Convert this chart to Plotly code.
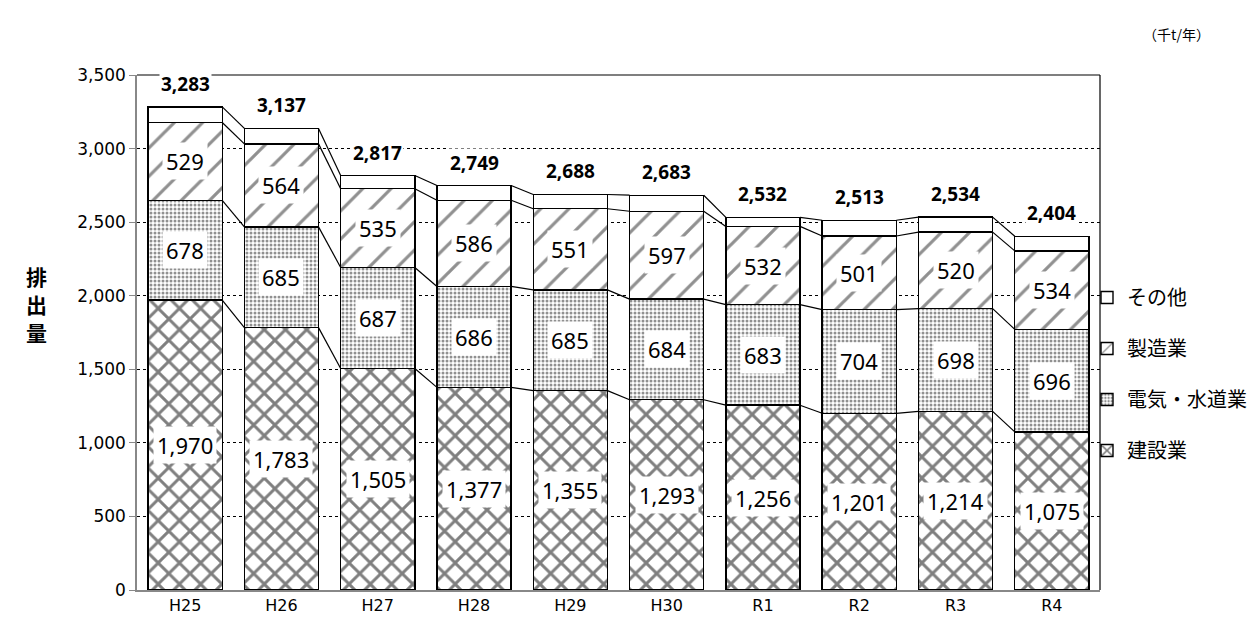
import plotly.graph_objects as go

years = ["H25", "H26", "H27", "H28", "H29", "H30", "R1", "R2", "R3", "R4"]
construction = [1970, 1783, 1505, 1377, 1355, 1293, 1256, 1201, 1214, 1075]
utilities = [678, 685, 687, 686, 685, 684, 683, 704, 698, 696]
manufacturing = [529, 564, 535, 586, 551, 597, 532, 501, 520, 534]
totals = [3283, 3137, 2817, 2749, 2688, 2683, 2532, 2513, 2534, 2404]
other = [t - a - b - c for t, a, b, c in zip(totals, construction, utilities, manufacturing)]

series_names = ["建設業", "電気・水道業", "製造業", "その他"]
series_vals = [construction, utilities, manufacturing, other]
patterns = [
    dict(shape="x", size=15, solidity=0.35, fgcolor="black", bgcolor="white"),
    dict(shape=".", size=4, solidity=0.45, fgcolor="#222", bgcolor="white"),
    dict(shape="/", size=20, solidity=0.16, fgcolor="#222", bgcolor="white"),
    dict(shape="", bgcolor="white"),
]

xs = list(range(len(years)))
W = 0.77
fig = go.Figure()

for i, (name, vals, pat) in enumerate(zip(series_names, series_vals, patterns)):
    fig.add_trace(go.Bar(
        x=xs, y=vals, name=name, width=W,
        marker=dict(color="white", line=dict(color="black", width=1.4), pattern=pat),
        legendgroup=name, legendrank=len(series_names) - i, hoverinfo="skip",
    ))

# cumulative levels and connector lines
cum = [0] * len(years)
levels = []
for vals in series_vals:
    cum = [c + v for c, v in zip(cum, vals)]
    levels.append(cum[:])

for lev in levels:
    lx, ly = [], []
    for j in range(len(years) - 1):
        lx += [xs[j] + W / 2, xs[j + 1] - W / 2, None]
        ly += [lev[j], lev[j + 1], None]
    fig.add_trace(go.Scatter(x=lx, y=ly, mode="lines", line=dict(color="black", width=1.2),
                             showlegend=False, hoverinfo="skip"))

annotations = []
base = [0] * len(years)
for k, vals in enumerate(series_vals[:3]):
    for j, v in enumerate(vals):
        annotations.append(dict(
            x=xs[j], y=base[j] + v / 2, xref="x", yref="y", text=f"{v:,}", showarrow=False,
            font=dict(family="Noto Sans", size=22, color="black"),
            bgcolor="white", borderpad=3,
        ))
    base = [b + v for b, v in zip(base, vals)]

for j, t in enumerate(totals):
    annotations.append(dict(
        x=xs[j], y=t, xref="x", yref="y", text=f"<b>{t:,}</b>", showarrow=False,
        yanchor="bottom", yshift=8,
        font=dict(family="Noto Sans", size=19, color="black"),
        bgcolor="white", borderpad=1,
    ))

# page body offset (8px) compensation: reference screen coords -> figure coords
OFF = 8
L, T = 137 - OFF, 75 - OFF
Rr, Bb = 1259 - (1100 - OFF), 625 - (590 - OFF)
PW, PH = 1259 - L - Rr, 625 - T - Bb


def px_to_paper(sx, sy):
    fx, fy = sx - OFF, sy - OFF
    return (fx - L) / PW, 1 - (fy - T) / PH


for ch, sy in zip(["排", "出", "量"], [276, 304, 332]):
    px, py = px_to_paper(24, sy)
    annotations.append(dict(x=px, y=py, xref="paper", yref="paper", text=f"<b>{ch}</b>",
                            showarrow=False,
                            font=dict(family="Noto Sans CJK JP", size=21, color="black")))
ux, uy = px_to_paper(1212, 22)
annotations.append(dict(x=ux, y=uy, xref="paper", yref="paper", text="（千t/年）",
                        showarrow=False, font=dict(family="Noto Sans CJK JP", size=14, color="black")))

lx0, ly0 = px_to_paper(1087, 278)

fig.update_layout(
    width=1259, height=625,
    margin=dict(l=L, r=Rr, t=T, b=Bb, autoexpand=False),
    plot_bgcolor="white", paper_bgcolor="white",
    barmode="stack",
    showlegend=True,
    legend=dict(x=lx0, y=ly0, xanchor="left", yanchor="top", traceorder="grouped",
                tracegroupgap=22, font=dict(family="Noto Sans CJK JP", size=20, color="black"),
                bgcolor="rgba(0,0,0,0)", itemwidth=30),
    annotations=annotations,
    xaxis=dict(range=[-0.5, 9.5], tickvals=xs, ticktext=years, showgrid=False,
               showline=True, linecolor="#888", linewidth=1.5, ticks="",
               tickfont=dict(family="DejaVu Sans", size=16, color="black"), zeroline=False),
    yaxis=dict(range=[0, 3500], dtick=500, tickformat=",", showgrid=True, gridcolor="black",
               griddash="dot", gridwidth=1, showline=True, linecolor="#888", linewidth=1.5,
               ticks="outside", ticklen=6, tickcolor="#888", zeroline=False,
               tickfont=dict(family="DejaVu Sans", size=17, color="black")),
    shapes=[
        dict(type="line", xref="paper", yref="paper", x0=0, x1=1, y0=1, y1=1,
             line=dict(color="black", width=1.2), layer="below"),
        dict(type="line", xref="paper", yref="paper", x0=1, x1=1, y0=0, y1=1,
             line=dict(color="black", width=1.2), layer="below"),
    ],
)

fig.write_html("out.html")
